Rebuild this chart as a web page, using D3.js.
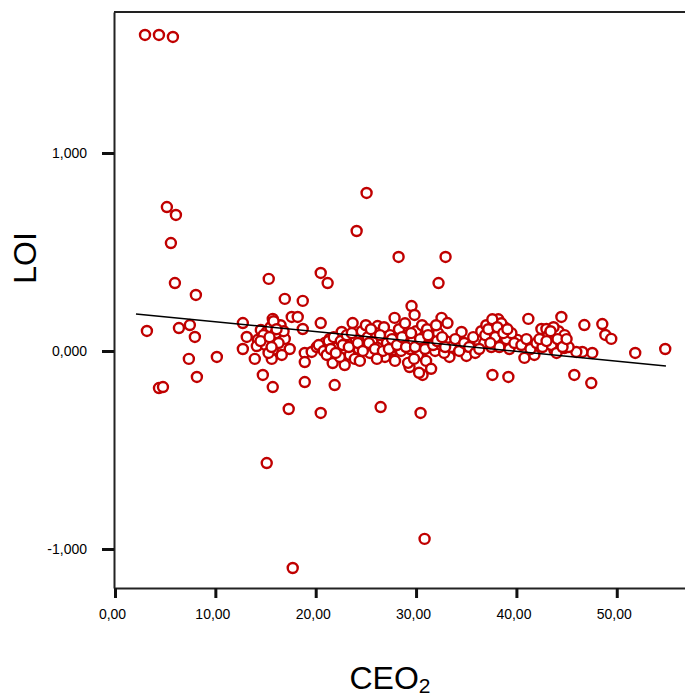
<!DOCTYPE html>
<html>
<head>
<meta charset="utf-8">
<script src="https://cdn.jsdelivr.net/npm/d3@7"></script>
<style>
  html, body { margin: 0; padding: 0; background: #fff; }
  svg { display: block; }
  text { font-family: "Liberation Sans", Arial, sans-serif; fill: #000; }
</style>
</head>
<body>
<svg id="chart" width="685" height="700"></svg>
<script>
// ---- data ----
const ceo = [
  2.99, 4.38, 5.77, 5.17, 6.07, 5.57, 5.97, 8.06, 3.18, 6.37, 7.46, 7.96, 7.36, 10.15, 8.16, 4.38, 4.78,
  12.74, 13.13, 12.74, 15.32, 20.50, 21.19, 16.92, 18.71, 17.61, 18.21, 20.50, 18.71, 15.72, 15.92,
  14.53, 15.12, 16.22, 14.23, 15.22, 16.92, 14.13, 15.72, 17.41, 13.93, 15.62, 16.62, 18.91, 18.91,
  19.60, 20.10, 20.90, 21.39, 21.69, 21.69, 14.73, 15.72, 18.91, 21.89, 17.31, 20.50, 15.12, 17.71,
  30.85, 25.07, 24.08, 28.26, 32.94, 32.24, 29.55, 23.68, 26.17, 27.86, 29.85, 32.54, 25.17, 22.59,
  27.66, 26.17, 22.89, 29.35, 30.65, 26.47, 30.45, 41.19, 44.48, 42.49, 42.99, 34.53, 36.12, 37.11,
  38.31, 40.10, 33.33, 35.02, 40.80, 41.79, 37.61, 39.20, 43.08, 43.78, 46.77, 48.56, 48.86, 49.45,
  51.84, 54.83, 47.56, 46.57, 45.97, 45.77, 47.46, 44.78, 33.13,
  14.8, 15.5, 16.0, 16.5, 15.0, 16.3, 15.8, 14.5, 16.8, 15.3,
  20.3, 20.8, 21.3, 21.8, 22.2, 22.5, 22.9, 23.1, 23.4, 23.7, 24.0, 23.9, 22.4, 21.1, 24.3,
  24.6, 24.9, 25.2, 25.4, 25.7, 26.0, 26.3, 26.6, 26.9, 27.1, 27.4, 27.7, 28.0, 28.3, 28.5, 25.0, 26.8, 24.4, 27.9,
  28.8, 29.1, 29.4, 29.7, 30.0, 30.2, 30.5, 30.8, 31.0, 31.3, 31.6, 31.9, 32.2, 32.5, 32.8, 33.0, 29.2, 30.6, 31.5, 28.9, 30.3, 31.1, 32.0,
  33.5, 33.9, 34.3, 34.8, 35.3, 35.7, 35.9,
  36.5, 36.8, 37.0, 37.3, 37.5, 37.8, 38.0, 38.2, 38.4, 38.6, 38.8, 39.0, 39.3, 39.5, 39.8, 38.5, 37.6, 36.3,
  40.5, 41.0, 41.4, 42.0, 42.6, 43.2, 43.5, 43.9, 44.2, 44.5, 44.8, 45.2, 43.7, 44.0,
  21.5, 22.0, 22.7, 23.3, 23.6, 24.2,
  24.7, 25.3, 25.9, 26.4, 26.7, 27.3, 27.6, 28.1, 25.5, 26.1,
  28.6, 29.0, 29.5, 29.9, 30.4, 30.9, 31.2, 31.7, 32.1, 32.6, 32.9, 29.8,
  36.9, 37.2, 37.9, 38.1, 38.7, 39.1, 38.3, 37.4,
  42.3, 43.0, 43.4, 44.1, 44.6, 45.0,
  15.4, 16.1, 15.6
];
const loi = [
  1.596, 1.596, 1.586, 0.727, 0.687, 0.545, 0.343, 0.283, 0.101, 0.116, 0.131, 0.071, -0.040, -0.030, -0.131, -0.187, -0.182,
  0.141, 0.071, 0.010, 0.364, 0.394, 0.343, 0.263, 0.253, 0.172, 0.172, 0.141, 0.111, 0.162, 0.141,
  0.106, 0.096, 0.106, 0.056, 0.056, 0.061, 0.025, 0.005, 0.010, -0.040, -0.040, -0.020, -0.010, -0.056,
  -0.005, 0.020, 0.040, 0.061, 0.020, -0.061, -0.121, -0.182, -0.157, -0.172, -0.293, -0.313, -0.566, -1.096,
  -0.949, 0.798, 0.606, 0.475, 0.475, 0.343, 0.227, 0.141, 0.126, 0.167, 0.182, 0.167, 0.101, 0.096,
  0.005, -0.020, -0.071, -0.081, -0.121, -0.283, -0.313, 0.162, 0.172, 0.111, 0.111, 0.096, 0.056, 0.096,
  0.131, 0.056, -0.030, -0.025, -0.035, -0.020, -0.121, -0.131, 0.056, 0.005, 0.131, 0.136, 0.081, 0.061,
  -0.010, 0.010, -0.010, -0.005, -0.005, -0.121, -0.162, 0.015, 0.141,
  0.08, 0.12, 0.09, 0.13, 0.03, 0.04, 0.15, 0.05, 0.10, -0.01,
  0.03, 0.00, 0.05, 0.07, 0.02, 0.05, 0.00, 0.08, -0.02, 0.04, 0.06, -0.04, -0.03, -0.02, 0.01,
  0.10, 0.03, 0.07, -0.01, 0.05, 0.09, 0.02, 0.06, -0.03, 0.04, 0.08, 0.02, 0.06, 0.11, 0.00, 0.13, 0.12, -0.05, -0.05,
  0.04, 0.08, 0.01, 0.05, 0.10, -0.02, 0.03, 0.07, -0.05, 0.02, 0.06, 0.00, 0.09, 0.03, -0.01, 0.05, -0.06, 0.13, -0.09, 0.14, -0.11, 0.11, 0.13,
  0.02, 0.06, 0.00, 0.04, 0.02, 0.07, -0.01,
  0.10, 0.04, 0.13, 0.07, 0.02, 0.10, 0.05, 0.16, 0.08, 0.03, 0.12, 0.06, 0.01, 0.09, 0.04, 0.14, 0.16, 0.01,
  0.03, 0.06, 0.01, 0.04, 0.02, 0.08, 0.03, 0.07, 0.10, 0.04, 0.08, 0.02, 0.12, -0.01,
  0.01, -0.01, 0.03, 0.02, 0.09, 0.04,
  0.00, 0.04, 0.01, 0.08, 0.00, 0.01, 0.06, 0.03, 0.11, -0.04,
  0.07, 0.02, 0.09, 0.02, 0.06, 0.01, 0.08, 0.03, 0.05, 0.07, 0.02, -0.04,
  0.08, 0.11, 0.07, 0.12, 0.09, 0.11, 0.02, 0.04,
  0.06, 0.05, 0.10, 0.06, 0.02, 0.06,
  0.07, 0.11, 0.02
];
// fit line end points
const fitX = [2.09, 54.9];
const fitY = [0.187, -0.076];
// ticks
const xTicks = [0, 10, 20, 30, 40, 50];
const xTickLabels = ["0,00", "10,00", "20,00", "30,00", "40,00", "50,00"];
const yTicks = [-1, 0, 1];
const yTickLabels = ["-1,000", "0,000", "1,000"];

// ---- drawing ----
const svg = d3.select("#chart");
const L = 114, R = 685, T = 12, B = 588;
const x = d3.scaleLinear().domain([-0.1, 56.8]).range([L, R]);
const y = d3.scaleLinear().domain([-1.197, 1.712]).range([B, T]);

svg.append("rect").attr("x", 0).attr("y", 0).attr("width", 685).attr("height", 700).attr("fill", "#fff");

// frame line on top
svg.append("line").attr("x1", L).attr("x2", R).attr("y1", T).attr("y2", T)
  .attr("stroke", "#222").attr("stroke-width", 2);

// points
const pts = ceo.map((v, i) => [v, loi[i]]);
svg.append("g").selectAll("circle").data(pts).join("circle")
  .attr("cx", d => x(d[0])).attr("cy", d => y(d[1])).attr("r", 5)
  .attr("fill", "#fff").attr("stroke", "#c00000").attr("stroke-width", 2.4);

// fit line
svg.append("line")
  .attr("x1", x(fitX[0])).attr("y1", y(fitY[0]))
  .attr("x2", x(fitX[1])).attr("y2", y(fitY[1]))
  .attr("stroke", "#000").attr("stroke-width", 1.6);

// axes
const xAxis = d3.axisBottom(x).tickValues(xTicks)
  .tickFormat((d, i) => xTickLabels[i]).tickSize(10).tickSizeOuter(0);
const gx = svg.append("g").attr("transform", `translate(0,${B})`).call(xAxis);
gx.select(".domain").attr("stroke", "#222").attr("stroke-width", 2);
gx.selectAll(".tick line").attr("stroke", "#111").attr("stroke-width", 3);
gx.selectAll(".tick text").attr("font-size", 14).attr("dx", -3).attr("y", 21)
  .attr("font-family", "Liberation Sans, Arial, sans-serif").attr("fill", "#000");

const yAxis = d3.axisLeft(y).tickValues(yTicks)
  .tickFormat((d, i) => yTickLabels[i]).tickSize(12).tickSizeOuter(0);
const gy = svg.append("g").attr("transform", `translate(${L},0)`).call(yAxis);
gy.select(".domain").attr("stroke", "#222").attr("stroke-width", 2);
gy.selectAll(".tick line").attr("stroke", "#111").attr("stroke-width", 3);
gy.selectAll(".tick text").attr("font-size", 14).attr("x", -27)
  .attr("font-family", "Liberation Sans, Arial, sans-serif").attr("fill", "#000");

// axis titles
svg.append("text").attr("transform", "translate(36,258) rotate(-90)")
  .attr("text-anchor", "middle").attr("font-size", 32).text("LOI");

const xt = svg.append("text").attr("x", 390).attr("y", 689)
  .attr("text-anchor", "middle").attr("font-size", 32);
xt.append("tspan").text("CEO");
xt.append("tspan").attr("font-size", 21).attr("dy", 4).text("2");
</script>
</body>
</html>
